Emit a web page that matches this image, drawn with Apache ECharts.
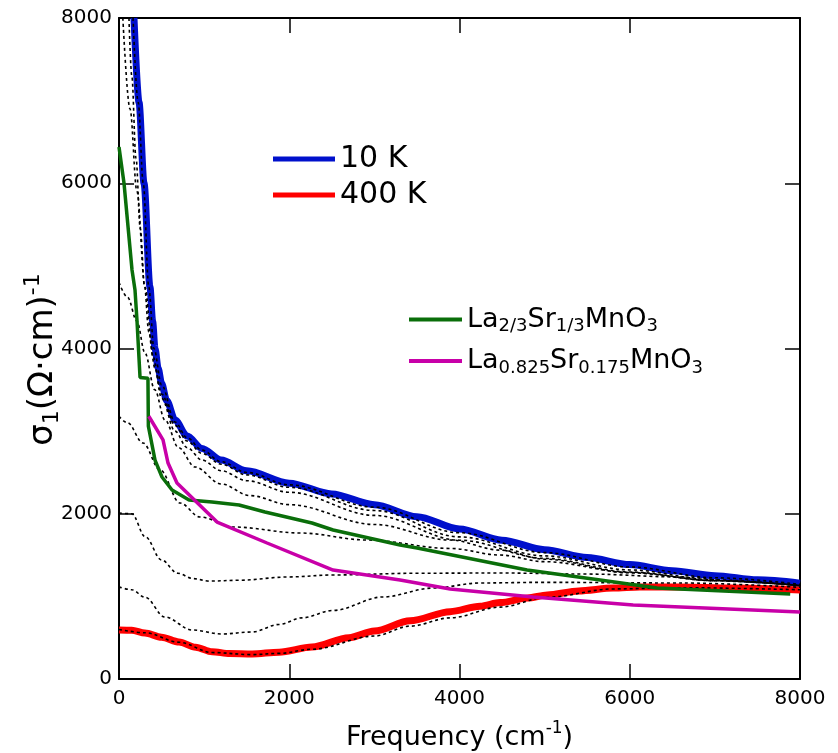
<!DOCTYPE html>
<html>
<head>
<meta charset="utf-8">
<script src="https://cdn.jsdelivr.net/npm/echarts@6/dist/echarts.min.js"></script>
<style>
html,body{margin:0;padding:0;background:#fff;}
#chart{width:838px;height:753px;}
</style>
</head>
<body>
<div id="chart"></div>
<script>
// ---- data (frequency in cm^-1, sigma_1 in (Ohm cm)^-1) ----
const freq10K = [176, 235, 294, 364, 395, 423, 460, 500, 560, 658, 800, 975, 1200, 1500, 2000, 2500, 3000, 3500, 4000, 4500, 5000, 5500, 6000, 6500, 7000, 7500, 8000];
const sig10K  = [8000, 6980, 6000, 4744, 4330, 4000, 3760, 3580, 3370, 3135, 2940, 2790, 2650, 2520, 2370, 2240, 2110, 1965, 1815, 1680, 1565, 1470, 1385, 1310, 1250, 1200, 1160];

const freq400K = [0, 150, 305, 500, 705, 900, 1093, 1300, 1563, 1880, 2267, 2700, 3000, 3420, 3890, 4242, 4477, 4800, 5030, 5400, 5805, 6120, 6590, 7200, 8000];
const sig400K  = [593, 590, 557, 505, 448, 385, 330, 308, 303, 325, 387, 500, 580, 705, 815, 880, 925, 980, 1016, 1065, 1100, 1113, 1113, 1100, 1077];

// intermediate temperatures (black dashed)
const freqB1 = [165, 225, 285, 350, 410, 500, 658, 800, 975, 1200, 1500, 2000, 3000, 4000, 5000, 6000, 7000, 8000];
const sigB1  = [8000, 6980, 6000, 4744, 4000, 3560, 3110, 2920, 2770, 2630, 2500, 2350, 2080, 1770, 1530, 1355, 1225, 1145];

const freqB2 = [117, 150, 200, 250, 300, 350, 423, 500, 658, 800, 975, 1200, 1500, 2000, 3000, 4000, 5000, 6000, 7000, 8000];
const sigB2  = [8000, 7300, 6300, 5450, 4750, 4200, 3760, 3450, 3070, 2880, 2730, 2600, 2470, 2320, 2040, 1720, 1490, 1320, 1200, 1130];

const freqB3 = [45, 129, 211, 305, 400, 500, 658, 800, 975, 1200, 1500, 2000, 3000, 4000, 5000, 6000, 7000, 8000];
const sigB3  = [8000, 6900, 5900, 4744, 3900, 3400, 3000, 2800, 2650, 2520, 2400, 2260, 1980, 1680, 1460, 1295, 1190, 1130];

const freqB4 = [0, 100, 211, 305, 420, 540, 700, 893, 1200, 1539, 2000, 3000, 3890, 4477, 5000, 6000, 7000, 8000];
const sigB4  = [4800, 4620, 4330, 3946, 3500, 3134, 2800, 2566, 2360, 2220, 2110, 1870, 1682, 1560, 1450, 1285, 1190, 1130];

const freqB5 = [0, 100, 282, 482, 717, 951, 1340, 2127, 2914, 3890, 4477, 5000, 6000, 7000, 8000];
const sigB5  = [3180, 3100, 2856, 2530, 2130, 1961, 1840, 1767, 1682, 1580, 1500, 1420, 1290, 1190, 1130];

const freqB6 = [0, 150, 310, 500, 690, 870, 1060, 1410, 1990, 2515, 3500, 4477, 5500, 6590, 7300, 8000];
const sigB6  = [2010, 2000, 1720, 1440, 1280, 1215, 1185, 1195, 1235, 1259, 1280, 1283, 1270, 1235, 1180, 1130];

const freqB7 = [0, 150, 305, 540, 857, 1210, 1563, 1880, 2150, 2515, 3102, 3690, 4242, 5000, 6590, 8000];
const sigB7  = [1115, 1080, 990, 750, 593, 545, 569, 660, 740, 830, 993, 1101, 1162, 1170, 1162, 1110];

const freqB8 = [0, 305, 705, 1093, 1563, 1880, 2267, 3000, 3420, 3890, 4477, 5030, 5805, 6590, 8000];
const sigB8  = [600, 560, 445, 320, 295, 310, 360, 520, 640, 740, 870, 990, 1090, 1105, 1080];

// comparison samples
const freqLSMO33 = [0, 59, 153, 188, 211, 247, 340, 345, 423, 505, 623, 823, 1093, 1410, 1715, 2267, 2515, 3302, 3502, 4794, 5652, 6322, 7885];
const sigLSMO33  = [6440, 6000, 4950, 4708, 4345, 3650, 3640, 3060, 2650, 2445, 2287, 2167, 2142, 2106, 2021, 1888, 1803, 1622, 1586, 1319, 1198, 1101, 1029];

const freqLSMO175 = [350, 517, 576, 681, 1152, 1739, 2515, 3302, 3890, 4865, 6040, 8000];
const sigLSMO175  = [3180, 2893, 2614, 2372, 1900, 1646, 1319, 1198, 1090, 993, 896, 811];

const xTicks = [0, 2000, 4000, 6000, 8000];
const yTicks = [0, 2000, 4000, 6000, 8000];

// ---- build ----
const FONT = 'DejaVu Sans';
function pairs(xs, ys) { return xs.map((x, i) => [x, ys[i]]); }

const nameGreen = 'La2/3Sr1/3MnO3';
const nameMag = 'La0.825Sr0.175MnO3';

function dashed(xs, ys, name) {
  return {
    name: name, type: 'line', data: pairs(xs, ys), symbol: 'none',
    smooth: 0.35, smoothMonotone: 'x',
    lineStyle: { color: '#000', width: 1.6, type: [3, 3] },
    z: 3
  };
}

const chart = echarts.init(document.getElementById('chart'), null, { renderer: 'canvas' });

const axisCommon = {
  type: 'value', min: 0, max: 8000, interval: 2000,
  axisLine: { show: true, onZero: false, lineStyle: { color: '#000', width: 2 } },
  axisTick: { show: true, inside: true, length: 15, lineStyle: { color: '#000', width: 1.5 } },
  splitLine: { show: false }
};

chart.setOption({
  animation: false,
  backgroundColor: '#fff',
  grid: { left: 119, right: 38, top: 18, bottom: 74, containLabel: false, outerBoundsMode: 'none' },
  xAxis: [
    Object.assign({}, axisCommon, {
      position: 'bottom',
      axisLabel: { fontSize: 20, color: '#000', fontFamily: FONT, margin: 10,
        formatter: v => xTicks.includes(v) ? String(v) : '' },
      name: '{n|Frequency (cm}{sup|-1}{n|)}',
      nameLocation: 'middle', nameGap: 41,
      nameTextStyle: { fontFamily: FONT, color: '#000',
        rich: { n: { fontSize: 27, fontFamily: FONT, color: '#000' },
                sup: { fontSize: 17, fontFamily: FONT, color: '#000', padding: [0, 0, 18, 0] } } }
    }),
    Object.assign({}, axisCommon, { position: 'top', axisLabel: { show: false } })
  ],
  yAxis: [
    Object.assign({}, axisCommon, {
      position: 'left',
      axisLabel: { fontSize: 20, color: '#000', fontFamily: FONT, margin: 7,
        formatter: v => yTicks.includes(v) ? String(v) : '' },
      name: '{n|σ}{sub|1}{n|(Ω·cm)}{sup|-1}',
      nameLocation: 'middle', nameRotate: 90, nameGap: 54, nameMoveOverlap: false,
      nameTextStyle: { fontFamily: FONT, color: '#000', padding: [0, 22, 0, 0],
        rich: { n: { fontSize: 34, fontFamily: FONT, color: '#000' },
                sub: { fontSize: 22, fontFamily: FONT, color: '#000', padding: [17, 0, 0, 0] },
                sup: { fontSize: 22, fontFamily: FONT, color: '#000', padding: [0, 0, 21, 0] } } }
    }),
    Object.assign({}, axisCommon, { position: 'right', axisLabel: { show: false } })
  ],
  legend: [
    {
      data: ['10 K', '400 K'], orient: 'vertical', left: 268, top: 139,
      icon: 'rect', itemWidth: 62, itemHeight: 5, itemGap: 6,
      textStyle: { fontSize: 30, color: '#000', fontFamily: FONT },
      selectedMode: false
    },
    {
      data: [nameGreen, nameMag], orient: 'vertical', left: 404, top: 301,
      icon: 'rect', itemWidth: 53, itemHeight: 4, itemGap: 12,
      selectedMode: false,
      formatter: function (n) {
        if (n === nameGreen) return '{m|La}{s|2/3}{m|Sr}{s|1/3}{m|MnO}{s|3}';
        return '{m|La}{s|0.825}{m|Sr}{s|0.175}{m|MnO}{s|3}';
      },
      textStyle: { color: '#000', fontFamily: FONT,
        rich: { m: { fontSize: 27, fontFamily: FONT, color: '#000' },
                s: { fontSize: 18, fontFamily: FONT, color: '#000', padding: [14, 0, 0, 0] } } }
    }
  ],
  series: [
    { name: '10 K', type: 'line', data: pairs(freq10K, sig10K), symbol: 'none', smooth: 0.3, smoothMonotone: 'x',
      lineStyle: { color: '#0010cc', width: 7 }, itemStyle: { color: '#0010cc' }, z: 2 },
    { name: '400 K', type: 'line', data: pairs(freq400K, sig400K), symbol: 'none', smooth: 0.3, smoothMonotone: 'x',
      lineStyle: { color: '#ff0000', width: 7 }, itemStyle: { color: '#ff0000' }, z: 2 },
    dashed(freqB1, sigB1, 'b1'),
    dashed(freqB2, sigB2, 'b2'),
    dashed(freqB3, sigB3, 'b3'),
    dashed(freqB4, sigB4, 'b4'),
    dashed(freqB5, sigB5, 'b5'),
    dashed(freqB6, sigB6, 'b6'),
    dashed(freqB7, sigB7, 'b7'),
    dashed(freqB8, sigB8, 'b8'),
    { name: nameGreen, type: 'line', data: pairs(freqLSMO33, sigLSMO33), symbol: 'none',
      lineStyle: { color: '#0a6e0a', width: 3.5 }, itemStyle: { color: '#0a6e0a' }, z: 4 },
    { name: nameMag, type: 'line', data: pairs(freqLSMO175, sigLSMO175), symbol: 'none',
      lineStyle: { color: '#c800a8', width: 3.5 }, itemStyle: { color: '#c800a8' }, z: 4 }
  ]
});
</script>
</body>
</html>
